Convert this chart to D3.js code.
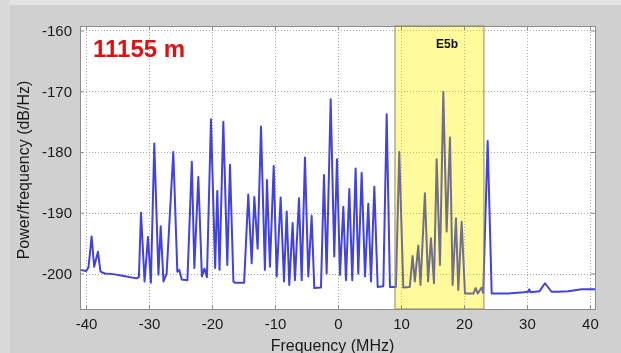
<!DOCTYPE html>
<html>
<head>
<meta charset="utf-8">
<script src="https://cdn.jsdelivr.net/npm/d3@7"></script>
<style>
  html, body { margin: 0; padding: 0; background: #d0d0d0; }
  svg { display: block; }
  text { font-family: Arial, "Liberation Sans", sans-serif; }
</style>
</head>
<body>
<svg id="chart" width="621" height="353"></svg>
<script>
// Spectrum trace: frequency offset (MHz) and power spectral density (dB/Hz)
const freqMHz = [
  -40.95, -40.0, -39.6, -39.1, -38.7, -38.1, -37.7, -37.0, -35.7, -34.0,
  -32.0, -31.6, -31.27, -30.7, -30.16, -29.7, -29.16, -28.5, -28.14, -27.7,
  -27.2, -26.14, -25.5, -25.2, -24.8, -23.9, -23.2, -22.8, -22.17, -21.6,
  -21.2, -20.8, -20.16, -19.5, -19.16, -18.8, -18.2, -17.57, -17.14, -16.6,
  -16.4, -14.9, -14.24, -13.7, -13.28, -12.75, -12.22, -11.6, -11.27, -10.8,
  -10.2, -9.73, -9.1, -8.57, -8.14, -7.73, -7.2, -6.83, -6.19, -5.76,
  -5.24, -4.71, -4.18, -3.76, -2.7, -2.22, -1.8, -1.16, -0.59, -0.16,
  0.32, 0.85, 1.27, 1.8, 2.27, 2.8, 3.22, 3.76, 4.29, 4.81,
  5.24, 5.77, 6.3, 7.2, 7.73, 8.25, 9.2, 9.73, 10.37, 11.4,
  11.84, 12.2, 12.75, 13.1, 13.8, 14.3, 14.76, 15.24, 15.67, 16.19,
  16.72, 17.25, 17.78, 18.2, 18.73, 19.1, 19.63, 20.16, 21.5, 21.86,
  22.2, 22.8, 23.05, 23.76, 24.4, 27.0, 29.5, 30.2, 30.37, 30.6,
  32.0, 32.86, 33.9, 35.0, 36.56, 38.7, 40.8
];
const powerDb = [
  -199.4, -199.6, -199.0, -193.9, -198.9, -196.4, -199.7, -200.0, -200.1, -200.4,
  -200.8, -200.6, -190.0, -201.3, -194.0, -201.5, -178.6, -200.2, -192.2, -201.3,
  -200.0, -180.0, -199.7, -199.4, -201.0, -201.1, -181.6, -199.1, -184.1, -200.5,
  -199.2, -200.6, -174.6, -199.1, -186.4, -199.4, -175.0, -198.6, -182.1, -201.3,
  -201.5, -201.5, -187.0, -198.3, -187.4, -195.9, -175.8, -199.4, -184.6, -198.9,
  -182.3, -200.5, -187.5, -201.3, -189.8, -201.9, -191.7, -201.1, -187.6, -201.1,
  -180.9, -200.5, -190.5, -202.4, -202.3, -183.8, -200.0, -171.3, -197.2, -181.2,
  -200.2, -189.0, -201.1, -186.1, -201.1, -182.7, -200.0, -183.4, -200.5, -188.5,
  -201.3, -185.7, -202.2, -202.1, -173.8, -202.2, -202.2, -180.0, -202.3, -202.2,
  -197.1, -201.3, -195.4, -201.9, -186.8, -201.3, -194.2, -201.6, -181.2, -198.6,
  -170.1, -193.1, -177.6, -201.9, -190.9, -202.7, -191.5, -203.3, -203.3, -202.4,
  -203.3, -202.3, -203.2, -178.2, -203.3, -203.3, -203.1, -203.0, -202.6, -203.1,
  -202.9, -201.6, -203.0, -203.0, -202.9, -202.6, -202.6
];

// Axis ticks
const xTicks = [-40, -30, -20, -10, 0, 10, 20, 30, 40];
const yTicks = [-160, -170, -180, -190, -200];

// E5b band limits (MHz) and annotations
const bandRange = [9.05, 23.17];
const bandLabel = "E5b";
const titleText = "11155 m";
const xLabel = "Frequency (MHz)";
const yLabel = "Power/frequency (dB/Hz)";

const svg = d3.select("#chart");
const W = 621, H = 353;
const plot = { left: 80, right: 595, top: 26, bottom: 309 };

// Window background with lighter edge strips
svg.append("rect").attr("width", W).attr("height", H).attr("fill", "#d0d0d0");
svg.append("rect").attr("width", W).attr("height", 5).attr("fill", "#e2e2e2");
svg.append("rect").attr("width", 10).attr("height", H).attr("fill", "#dadada");

const x = d3.scaleLinear().domain([-40.95, 40.8]).range([plot.left, plot.right]);
const y = d3.scaleLinear().domain([-205.84, -159.26]).range([plot.bottom, plot.top]);

// Plot area
svg.append("rect")
  .attr("x", plot.left).attr("y", plot.top)
  .attr("width", plot.right - plot.left).attr("height", plot.bottom - plot.top)
  .attr("fill", "#ffffff");

// Dotted grid
const grid = svg.append("g").attr("stroke", "#a8a8a8").attr("stroke-width", 1)
  .attr("stroke-dasharray", "1,2");
grid.selectAll("line.v").data(xTicks).join("line").attr("class", "v")
  .attr("x1", d => Math.round(x(d)) + 0.5).attr("x2", d => Math.round(x(d)) + 0.5)
  .attr("y1", plot.top).attr("y2", plot.bottom);
grid.selectAll("line.h").data(yTicks).join("line").attr("class", "h")
  .attr("y1", d => Math.round(y(d)) + 0.5).attr("y2", d => Math.round(y(d)) + 0.5)
  .attr("x1", plot.left).attr("x2", plot.right);

// Spectrum trace
const pts = freqMHz.map((f, i) => [f, powerDb[i]]);
const line = d3.line().x(d => x(d[0])).y(d => y(d[1]));
svg.append("path").datum(pts)
  .attr("d", line)
  .attr("fill", "none")
  .attr("stroke", "#4242dc")
  .attr("stroke-width", 2)
  .attr("stroke-linejoin", "round");

// E5b band: multiplied over the trace, then a light wash of the same yellow
const bx = x(bandRange[0]), bw = x(bandRange[1]) - x(bandRange[0]);
svg.append("rect")
  .attr("x", bx).attr("y", plot.top).attr("width", bw)
  .attr("height", plot.bottom - plot.top)
  .attr("fill", "#fffa9c")
  .style("mix-blend-mode", "multiply");
svg.append("rect")
  .attr("x", bx).attr("y", plot.top).attr("width", bw)
  .attr("height", plot.bottom - plot.top)
  .attr("fill", "#fffa9c").attr("fill-opacity", 0.25)
  .attr("stroke", "#8a8a60").attr("stroke-width", 1);

svg.append("text")
  .attr("x", 447)
  .attr("y", 48)
  .attr("text-anchor", "middle")
  .attr("font-size", 12).attr("font-weight", "bold").attr("fill", "#111")
  .text(bandLabel);

// Axes (inward ticks on all four sides); labels use a plain hyphen minus
const fmt = d => String(d);
const xAxisB = d3.axisBottom(x).tickValues(xTicks).tickSize(-4).tickPadding(9).tickFormat(fmt);
const xAxisT = d3.axisTop(x).tickValues(xTicks).tickSize(-4).tickFormat("");
const yAxisL = d3.axisLeft(y).tickValues(yTicks).tickSize(-4).tickPadding(8).tickFormat(fmt);
const yAxisR = d3.axisRight(y).tickValues(yTicks).tickSize(-4).tickFormat("");

function style(g) {
  g.select(".domain").attr("stroke", "#8c8c8c");
  g.selectAll(".tick line").attr("stroke", "#8c8c8c");
  g.selectAll(".tick text").attr("font-size", 15).attr("fill", "#1a1a1a")
    .attr("font-family", "Arial, 'Liberation Sans', sans-serif");
}
svg.append("g").attr("transform", `translate(0,${plot.bottom})`).call(xAxisB).call(style);
svg.append("g").attr("transform", `translate(0,${plot.top})`).call(xAxisT).call(style);
svg.append("g").attr("transform", `translate(${plot.left},0)`).call(yAxisL).call(style);
svg.append("g").attr("transform", `translate(${plot.right},0)`).call(yAxisR).call(style);

// Title inside plot
svg.append("text")
  .attr("x", 93).attr("y", 57)
  .attr("font-size", 24).attr("font-weight", "bold").attr("fill", "#e01010")
  .text(titleText);

// Axis titles
svg.append("text")
  .attr("x", (plot.left + plot.right) / 2 - 5).attr("y", 351)
  .attr("text-anchor", "middle").attr("font-size", 16).attr("fill", "#1a1a1a")
  .text(xLabel);
svg.append("text")
  .attr("transform", `translate(28.5,${170}) rotate(-90)`)
  .attr("text-anchor", "middle").attr("font-size", 16).attr("fill", "#1a1a1a")
  .text(yLabel);
</script>
</body>
</html>
